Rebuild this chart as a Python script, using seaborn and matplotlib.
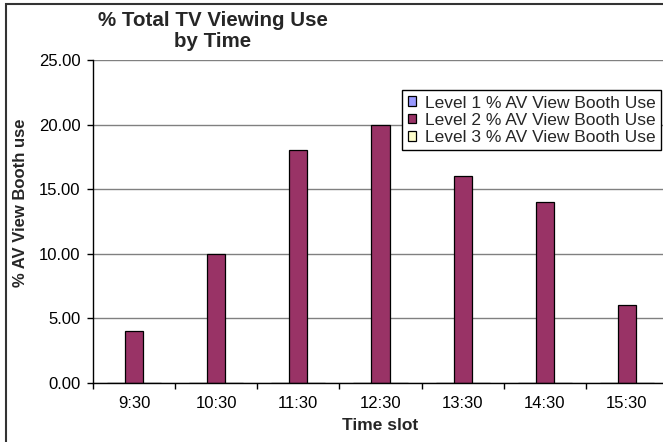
import matplotlib
matplotlib.use("Agg")
import matplotlib.pyplot as plt
import seaborn as sns
import pandas as pd
from matplotlib.patches import Rectangle, Patch

# Data
time_slots = ["9:30", "10:30", "11:30", "12:30", "13:30", "14:30", "15:30"]
level1_use = [0, 0, 0, 0, 0, 0, 0]
level2_use = [4, 10, 18, 20, 16, 14, 6]
level3_use = [0, 0, 0, 0, 0, 0, 0]
series_names = [
    "Level 1 % AV View Booth Use",
    "Level 2 % AV View Booth Use",
    "Level 3 % AV View Booth Use",
]
series_colors = ["#9999FF", "#993366", "#FFFFCC"]
y_ticks = [0, 5, 10, 15, 20, 25]

df = pd.DataFrame({
    "slot": time_slots * 3,
    "series": [series_names[0]] * 7 + [series_names[1]] * 7 + [series_names[2]] * 7,
    "value": level1_use + level2_use + level3_use,
})

sns.set_theme(style="white")
plt.rcParams["font.family"] = ["Liberation Sans", "DejaVu Sans"]

W, H = 663, 442
fig = plt.figure(figsize=(W / 100, H / 100), dpi=100)
fig.patch.set_facecolor("white")

ax = fig.add_axes([93 / W, 1 - 383 / H, (668 - 93) / W, (383 - 60) / H])

sns.barplot(
    data=df, x="slot", y="value", hue="series",
    order=time_slots, hue_order=series_names,
    palette=series_colors, width=0.66, saturation=1,
    edgecolor="black", linewidth=0.9, legend=False, ax=ax,
)

ax.set_facecolor("white")
ax.set_xlim(-0.5, 6.5)
ax.set_ylim(0, 25)
ax.set_yticks(y_ticks)
ax.set_yticklabels([f"{v:.2f}" for v in y_ticks])
ax.yaxis.grid(True, color="#808080", linewidth=1.0)
ax.xaxis.grid(False)
ax.set_axisbelow(True)

for side in ["top", "right"]:
    ax.spines[side].set_visible(False)
for side in ["left", "bottom"]:
    ax.spines[side].set_color("black")
    ax.spines[side].set_linewidth(1.0)

ax.set_xlabel("")
ax.set_ylabel("")

# Category labels centred, tick marks on category boundaries
ax.set_xticks(range(len(time_slots)))
ax.set_xticklabels(time_slots)
ax.set_xticks([i - 0.5 for i in range(len(time_slots) + 1)], minor=True)
ax.tick_params(axis="x", which="major", length=0, pad=9, labelsize=12, colors="black")
ax.tick_params(axis="x", which="minor", length=4, width=1, direction="out",
               color="black", bottom=True)
ax.tick_params(axis="y", length=4, width=1, direction="out", pad=5,
               labelsize=12, colors="black", left=True)

# Titles
fig.text(213 / W, 1 - 31 / H, "% Total TV Viewing Use\nby Time",
         ha="center", va="center", fontsize=14.8, fontweight="bold",
         linespacing=1.1)
fig.text(21 / W, 1 - 203 / H, "% AV View Booth use", rotation=90,
         ha="center", va="center", fontsize=12, fontweight="bold")
fig.text(380 / W, 1 - 425 / H, "Time slot",
         ha="center", va="center", fontsize=12.5, fontweight="bold")

# Legend
handles = [Patch(facecolor=c, edgecolor="black", linewidth=0.9) for c in series_colors]
leg = fig.legend(
    handles, series_names, loc="upper left",
    bbox_to_anchor=(402 / W, 1 - 90 / H), bbox_transform=fig.transFigure,
    frameon=True, fancybox=False, shadow=False, framealpha=1,
    edgecolor="black", fontsize=12.5, handlelength=0.5, handleheight=0.5,
    handletextpad=0.5, labelspacing=0.12, borderpad=0.32, borderaxespad=0,
)
leg.get_frame().set_linewidth(1.0)

# Chart frame
fig.add_artist(Rectangle((6 / W, -0.5), 2.0, 1 - 4 / H + 0.5,
                         transform=fig.transFigure, fill=False,
                         edgecolor="#333333", linewidth=1.5))

fig.savefig("out.png", dpi=100, facecolor="white")
